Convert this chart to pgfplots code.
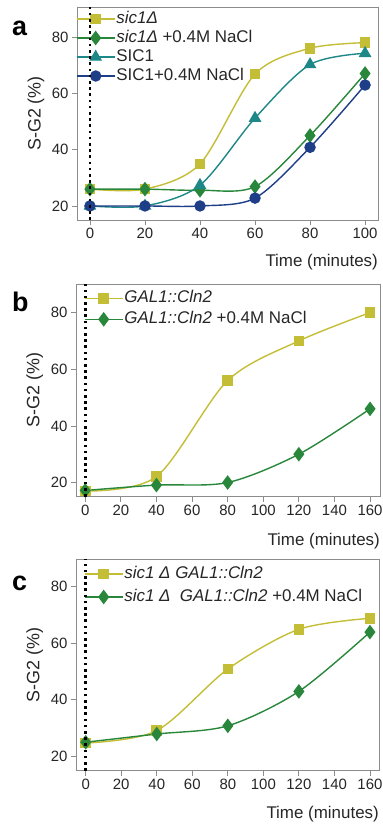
\documentclass[border=0pt]{standalone}
\usepackage{fontspec}
\setmainfont{Liberation Sans}
\usepackage{pgfplots}
\pgfplotsset{compat=1.18}

\definecolor{cy}{RGB}{196,190,55}
\definecolor{cg}{RGB}{40,135,58}
\definecolor{ct}{RGB}{30,135,135}
\definecolor{cn}{RGB}{30,62,135}

\tikzset{vdot/.style={black, line width=2.6bp, dash pattern=on 2.6bp off 3.6bp}}

\pgfplotsset{
  panel/.style={
    scale only axis, anchor=south west,
    axis line style={draw=black!45, line width=0.8bp},
    every tick/.style={draw=black!45, line width=0.8bp},
    tick align=outside, major tick length=5bp,
    xtick pos=bottom, ytick pos=left,
    ticklabel style={font=\fontsize{15}{17}\selectfont, text=black!85},
    /pgf/number format/assume math mode=true,
    xlabel={Time (minutes)}, ylabel={S-G2 (\%)},
    xlabel style={font=\fontsize{17}{19}\selectfont, text=black!85, anchor=east, inner sep=0pt},
    ylabel style={font=\fontsize{18}{20}\selectfont, text=black!85, at={(axis description cs:-0.136,0.5)}, anchor=center},
    ytick={20,40,60,80},
    legend cell align=left,
    legend style={draw=none, fill=none, inner sep=0pt, outer sep=0pt, anchor=north west,
      font=\fontsize{17}{19}\selectfont, text=black!85,
      nodes={inner sep=1bp, text height=12bp, text depth=3bp}},
    legend image code/.code={\draw[mark repeat=2,mark phase=2] plot coordinates {(0bp,0bp) (19bp,0bp) (38bp,0bp)};},
    every axis plot/.append style={line width=1.4bp, smooth},
  },
  sq/.style={cy, mark=square*, mark size=4.6bp, mark options={solid}},
  dm/.style={cg, mark=diamond*, mark size=6.2bp, mark options={solid}},
  tr/.style={ct, mark=triangle*, mark size=6bp, mark options={solid}},
  ci/.style={cn, mark=*, mark size=5bp, mark options={solid}},
}

\begin{document}
\begin{tikzpicture}
\useasboundingbox (0,0) rectangle (383bp,-824bp);

% Panel a
\begin{axis}[panel, at={(77bp,-220bp)}, width=301bp, height=213bp,
  xmin=-4.7, xmax=104.7, ymin=15, ymax=90.9,
  xtick={0,20,40,60,80,100},
  xlabel style={at={(axis description cs:1,-0.197)}},
  legend style={at={(axis description cs:0,1)}, xshift=-1bp, yshift=-3.5bp, row sep=2bp}]
\addplot[sq] coordinates {(0,26) (20,26) (40,35) (60,67) (80,76.2) (100,78.2)};
\addplot[dm] coordinates {(0,26) (20,26) (40,25.6) (60,26.9) (80,45.1) (100,67.2)};
\addplot[tr] coordinates {(0,20) (20,20) (40,27.4) (60,51.3) (80,70.4) (100,74.4)};
\addplot[ci] coordinates {(0,20) (20,20) (40,20) (60,22.8) (80,40.9) (100,63.1)};
\legend{\textit{sic1Δ}, \textit{sic1Δ} +0.4M NaCl, SIC1, SIC1+0.4M NaCl}
\coordinate (abot) at (axis cs:0,15);
\coordinate (atop) at (axis cs:0,90.9);
\end{axis}
\draw[vdot] (abot) -- (atop);
\node[anchor=base west, font=\fontsize{27}{30}\selectfont\bfseries, inner sep=0pt] at (12bp,-35bp) {a};

% Panel b
\begin{axis}[panel, at={(76bp,-496.7bp)}, width=304bp, height=212.7bp,
  xmin=-5.2, xmax=165.6, ymin=15, ymax=90.1,
  xtick={0,20,...,160},
  xlabel style={at={(axis description cs:1,-0.21)}},
  legend style={at={(axis description cs:0,1)}, xshift=8bp, yshift=-5.8bp, row sep=4bp}]
\addplot[sq] coordinates {(0,17) (40,22.1) (80,56) (120,70) (160,80)};
\addplot[dm] coordinates {(0,17.2) (40,19.1) (80,20) (120,30) (160,46)};
\legend{\textit{GAL1::Cln2}, \textit{GAL1::Cln2} +0.4M NaCl}
\coordinate (bbot) at (axis cs:0,15);
\coordinate (btop) at (axis cs:0,90.1);
\end{axis}
\draw[vdot] (bbot) -- (btop);
\node[anchor=base west, font=\fontsize{27}{30}\selectfont\bfseries, inner sep=0pt] at (12bp,-311.7bp) {b};

% Panel c
\begin{axis}[panel, at={(76bp,-770.7bp)}, width=303bp, height=211.7bp,
  xmin=-5.46, xmax=165.1, ymin=14.8, ymax=89.8,
  xtick={0,20,...,160},
  xlabel style={at={(axis description cs:1,-0.204)}},
  legend style={at={(axis description cs:0,1)}, xshift=8bp, yshift=-6.5bp, row sep=6bp}]
\addplot[sq] coordinates {(0,24.6) (40,29) (80,50.8) (120,64.9) (160,68.8)};
\addplot[dm] coordinates {(0,24.9) (40,27.8) (80,30.7) (120,42.9) (160,63.9)};
\legend{\textit{sic1 Δ GAL1::Cln2}, \textit{sic1 Δ\ \ GAL1::Cln2} +0.4M NaCl}
\coordinate (cbot) at (axis cs:0,14.8);
\coordinate (ctop) at (axis cs:0,89.8);
\end{axis}
\draw[vdot] (cbot) -- (ctop);
\node[anchor=base west, font=\fontsize{27}{30}\selectfont\bfseries, inner sep=0pt] at (12bp,-590bp) {c};
\end{tikzpicture}
\end{document}
